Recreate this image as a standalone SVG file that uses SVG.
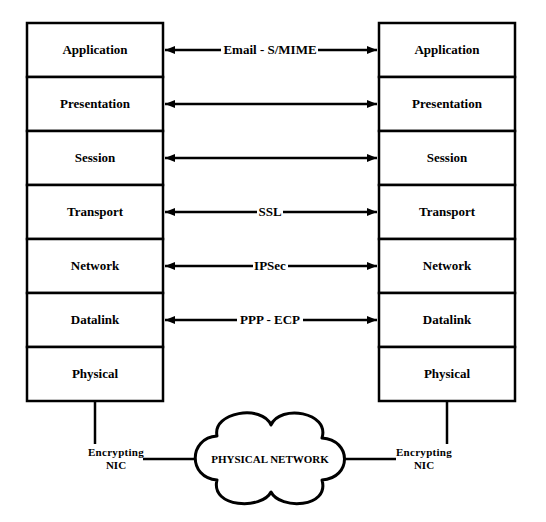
<svg xmlns="http://www.w3.org/2000/svg" width="546" height="522" viewBox="0 0 546 522">
<defs>
<style>
.box{fill:#fff;stroke:#000;stroke-width:2.5}
.t{font-family:'Liberation Serif','Times New Roman','DejaVu Serif',serif;font-weight:bold;font-size:13px;text-anchor:middle;fill:#000}
.s{font-family:'Liberation Serif','Times New Roman','DejaVu Serif',serif;font-weight:bold;font-size:11px;text-anchor:middle;fill:#000}
.ln{stroke:#000;stroke-width:2.5;fill:none}
.bg{fill:#fff}
</style>
<marker id="ah" viewBox="0 0 10 8" refX="10" refY="4" markerWidth="10" markerHeight="8" markerUnits="userSpaceOnUse" orient="auto-start-reverse">
<path d="M0,0 L10,4 L0,8 Z" fill="#000"/>
</marker>
</defs>
<rect width="546" height="522" fill="#fff"/>
<g id="left-stack">
<g id="l-app"><rect class="box" x="27" y="23" width="136" height="54"/><text class="t" x="95" y="54" font-family="Liberation Serif, serif">Application</text></g>
<g id="l-pres"><rect class="box" x="27" y="77" width="136" height="54"/><text class="t" x="95" y="108">Presentation</text></g>
<g id="l-sess"><rect class="box" x="27" y="131" width="136" height="54"/><text class="t" x="95" y="162">Session</text></g>
<g id="l-trans"><rect class="box" x="27" y="185" width="136" height="54"/><text class="t" x="95" y="216">Transport</text></g>
<g id="l-net"><rect class="box" x="27" y="239" width="136" height="54"/><text class="t" x="95" y="270">Network</text></g>
<g id="l-dl"><rect class="box" x="27" y="293" width="136" height="54"/><text class="t" x="95" y="324">Datalink</text></g>
<g id="l-phys"><rect class="box" x="27" y="347" width="136" height="54"/><text class="t" x="95" y="378">Physical</text></g>
</g>
<g id="right-stack">
<g id="r-app"><rect class="box" x="379" y="23" width="136" height="54"/><text class="t" x="447" y="54">Application</text></g>
<g id="r-pres"><rect class="box" x="379" y="77" width="136" height="54"/><text class="t" x="447" y="108">Presentation</text></g>
<g id="r-sess"><rect class="box" x="379" y="131" width="136" height="54"/><text class="t" x="447" y="162">Session</text></g>
<g id="r-trans"><rect class="box" x="379" y="185" width="136" height="54"/><text class="t" x="447" y="216">Transport</text></g>
<g id="r-net"><rect class="box" x="379" y="239" width="136" height="54"/><text class="t" x="447" y="270">Network</text></g>
<g id="r-dl"><rect class="box" x="379" y="293" width="136" height="54"/><text class="t" x="447" y="324">Datalink</text></g>
<g id="r-phys"><rect class="box" x="379" y="347" width="136" height="54"/><text class="t" x="447" y="378">Physical</text></g>
</g>
<g id="connectors">
<line class="ln" x1="165" y1="50" x2="377" y2="50" marker-start="url(#ah)" marker-end="url(#ah)"/>
<line class="ln" x1="165" y1="104" x2="377" y2="104" marker-start="url(#ah)" marker-end="url(#ah)"/>
<line class="ln" x1="165" y1="158" x2="377" y2="158" marker-start="url(#ah)" marker-end="url(#ah)"/>
<line class="ln" x1="165" y1="212" x2="377" y2="212" marker-start="url(#ah)" marker-end="url(#ah)"/>
<line class="ln" x1="165" y1="266" x2="377" y2="266" marker-start="url(#ah)" marker-end="url(#ah)"/>
<line class="ln" x1="165" y1="320" x2="377" y2="320" marker-start="url(#ah)" marker-end="url(#ah)"/>
<line class="ln" x1="95" y1="401" x2="95" y2="444"/>
<line class="ln" x1="447" y1="401" x2="447" y2="444"/>
<line class="ln" x1="143" y1="459" x2="196" y2="459"/>
<line class="ln" x1="345" y1="459" x2="396" y2="459"/>
<rect class="bg" x="221" y="43" width="97" height="14"/>
<text class="t" x="270" y="54">Email - S/MIME</text>
<rect class="bg" x="257" y="205" width="26" height="14"/>
<text class="t" x="270" y="216">SSL</text>
<rect class="bg" x="253" y="259" width="35" height="14"/>
<text class="t" x="270" y="270">IPSec</text>
<rect class="bg" x="237" y="313" width="66" height="14"/>
<text class="t" x="270" y="324">PPP - ECP</text>
</g>
<g id="cloud">
<path d="M217,436 C212,412 262,404 271,425 C280,404 330,412 322,438 C352,440 352,478 322,480 C330,508 280,510 271,492 C262,510 210,508 217,480 C188,478 188,438 217,436 Z" fill="#fff" stroke="#000" stroke-width="3" stroke-linejoin="round"/>
<text class="s" x="270" y="463">PHYSICAL NETWORK</text>
</g>
<g id="nic-left"><text class="s" x="116" y="456" letter-spacing="0.3">Encrypting</text><text class="s" x="116" y="469">NIC</text></g>
<g id="nic-right"><text class="s" x="424" y="456" letter-spacing="0.3">Encrypting</text><text class="s" x="424" y="469">NIC</text></g>
</svg>
